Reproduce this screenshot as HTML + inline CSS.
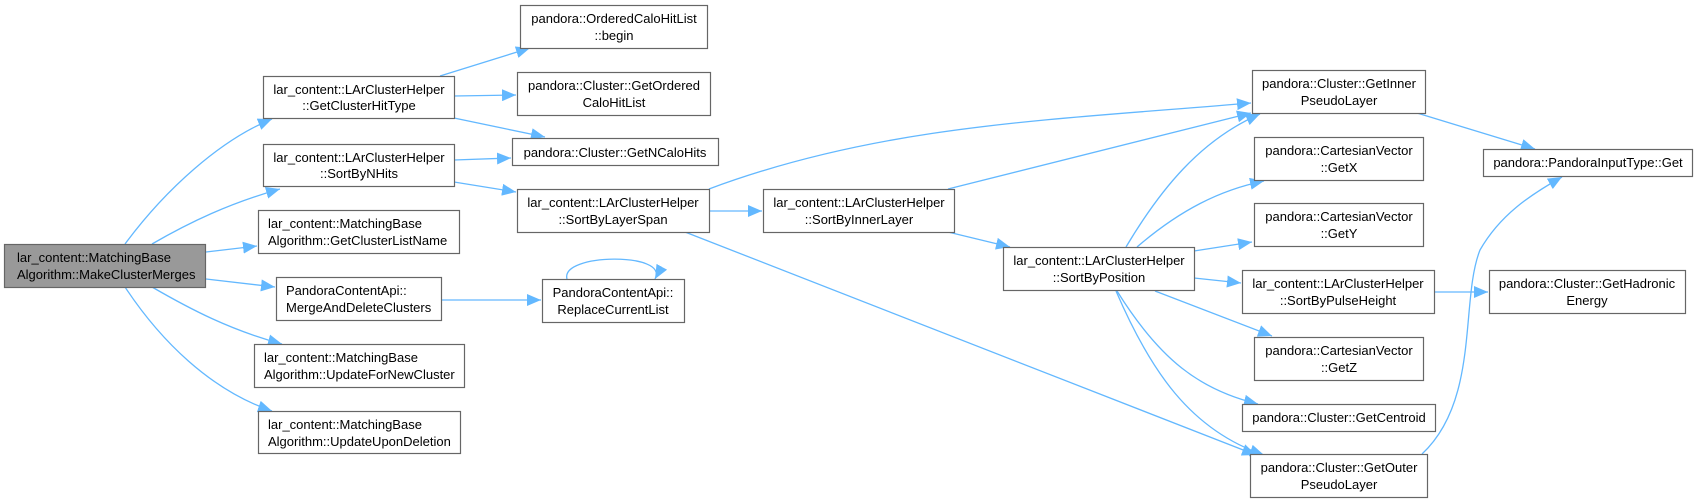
<!DOCTYPE html>
<html><head><meta charset="utf-8"><style>
body{margin:0;background:#fff;width:1697px;height:503px;overflow:hidden}
svg{display:block}
text{font-family:"Liberation Sans",Arial,sans-serif;font-size:13px;fill:#000}
.b{fill:#fff;stroke:#666;stroke-width:1.2}
.e{fill:none;stroke:#63b8ff;stroke-width:1.3}
</style></head><body>
<svg width="1697" height="503" viewBox="0 0 1697 503">
<defs><marker id="a" viewBox="0 0 14 12" refX="14" refY="6" markerWidth="14" markerHeight="12" markerUnits="userSpaceOnUse" orient="auto"><path d="M0,0 L14,6 L0,12 z" fill="#63b8ff"/></marker></defs>
<g class="e" marker-end="url(#a)">
<path d="M125,244 C165,190 220,140 272,119"/>
<path d="M152,244 C190,222 230,203 280,189"/>
<path d="M206,252 L257,246"/>
<path d="M206,279 L275,287"/>
<path d="M152,287 C190,309 230,330 282,344"/>
<path d="M125,287 C160,340 210,390 272,411"/>
<path d="M440,76 L530,48"/>
<path d="M454,96 L516,95"/>
<path d="M454,118 L545,137"/>
<path d="M454,160 L511,158"/>
<path d="M454,182 L516,192"/>
<path d="M441,300 L541,300"/>
<path d="M567,279 C560,253 670,252 655,279"/>
<path d="M709,189 C880,125 1050,120 1251,103"/>
<path d="M709,211 L762,211"/>
<path d="M685,232 L1256,455"/>
<path d="M948,189 L1251,113"/>
<path d="M948,232 L1010,247"/>
<path d="M1126,247 C1160,190 1200,140 1260,114"/>
<path d="M1137,247 C1180,210 1220,190 1264,181"/>
<path d="M1194,251 L1252,242"/>
<path d="M1194,278 L1241,283"/>
<path d="M1155,291 L1272,336"/>
<path d="M1117,291 C1160,360 1200,390 1258,404"/>
<path d="M1116,291 C1150,370 1190,430 1264,455"/>
<path d="M1417,113 L1535,149"/>
<path d="M1434,292 L1488,292"/>
<path d="M1422,454 C1480,400 1460,300 1480,250 C1500,215 1530,195 1562,177"/>
</g>
<rect x="4.5" y="244.5" width="201" height="43" fill="#999" stroke="#666" stroke-width="1.2"/>
<text x="17" y="262">lar_content::MatchingBase</text><text x="17" y="279">Algorithm::MakeClusterMerges</text>

<rect class="b" x="263.5" y="76.5" width="191" height="42"/><text text-anchor="middle" x="359" y="94">lar_content::LArClusterHelper</text><text text-anchor="middle" x="359" y="110">::GetClusterHitType</text>
<rect class="b" x="263.5" y="144.5" width="191" height="42"/><text text-anchor="middle" x="359" y="162">lar_content::LArClusterHelper</text><text text-anchor="middle" x="359" y="178">::SortByNHits</text>
<rect class="b" x="258.5" y="210.5" width="201" height="43"/><text x="268" y="228">lar_content::MatchingBase</text><text x="268" y="245">Algorithm::GetClusterListName</text>
<rect class="b" x="276.5" y="277.5" width="165" height="43"/><text x="286" y="295">PandoraContentApi::</text><text x="286" y="312">MergeAndDeleteClusters</text>
<rect class="b" x="254.5" y="344.5" width="210" height="43"/><text x="264" y="362">lar_content::MatchingBase</text><text x="264" y="379">Algorithm::UpdateForNewCluster</text>
<rect class="b" x="258.5" y="411.5" width="202" height="42"/><text x="268" y="429">lar_content::MatchingBase</text><text x="268" y="446">Algorithm::UpdateUponDeletion</text>

<rect class="b" x="520.5" y="5.5" width="187" height="43"/><text text-anchor="middle" x="614" y="23">pandora::OrderedCaloHitList</text><text text-anchor="middle" x="614" y="40">::begin</text>
<rect class="b" x="517.5" y="72.5" width="193" height="43"/><text text-anchor="middle" x="614" y="90">pandora::Cluster::GetOrdered</text><text text-anchor="middle" x="614" y="107">CaloHitList</text>
<rect class="b" x="512.5" y="138.5" width="206" height="27"/><text text-anchor="middle" x="615" y="157">pandora::Cluster::GetNCaloHits</text>
<rect class="b" x="517.5" y="189.5" width="192" height="43"/><text text-anchor="middle" x="613" y="207">lar_content::LArClusterHelper</text><text text-anchor="middle" x="613" y="224">::SortByLayerSpan</text>
<rect class="b" x="542.5" y="279.5" width="142" height="43"/><text text-anchor="middle" x="613" y="297">PandoraContentApi::</text><text text-anchor="middle" x="613" y="314">ReplaceCurrentList</text>

<rect class="b" x="763.5" y="189.5" width="191" height="43"/><text text-anchor="middle" x="859" y="207">lar_content::LArClusterHelper</text><text text-anchor="middle" x="859" y="224">::SortByInnerLayer</text>
<rect class="b" x="1003.5" y="247.5" width="191" height="43"/><text text-anchor="middle" x="1099" y="265">lar_content::LArClusterHelper</text><text text-anchor="middle" x="1099" y="282">::SortByPosition</text>

<rect class="b" x="1252.5" y="70.5" width="173" height="43"/><text text-anchor="middle" x="1339" y="88">pandora::Cluster::GetInner</text><text text-anchor="middle" x="1339" y="105">PseudoLayer</text>
<rect class="b" x="1254.5" y="137.5" width="169" height="43"/><text text-anchor="middle" x="1339" y="155">pandora::CartesianVector</text><text text-anchor="middle" x="1339" y="172">::GetX</text>
<rect class="b" x="1254.5" y="203.5" width="169" height="43"/><text text-anchor="middle" x="1339" y="221">pandora::CartesianVector</text><text text-anchor="middle" x="1339" y="238">::GetY</text>
<rect class="b" x="1242.5" y="270.5" width="192" height="43"/><text text-anchor="middle" x="1338" y="288">lar_content::LArClusterHelper</text><text text-anchor="middle" x="1338" y="305">::SortByPulseHeight</text>
<rect class="b" x="1254.5" y="337.5" width="169" height="43"/><text text-anchor="middle" x="1339" y="355">pandora::CartesianVector</text><text text-anchor="middle" x="1339" y="372">::GetZ</text>
<rect class="b" x="1242.5" y="404.5" width="193" height="27"/><text text-anchor="middle" x="1339" y="422">pandora::Cluster::GetCentroid</text>
<rect class="b" x="1250.5" y="454.5" width="177" height="43"/><text text-anchor="middle" x="1339" y="472">pandora::Cluster::GetOuter</text><text text-anchor="middle" x="1339" y="489">PseudoLayer</text>

<rect class="b" x="1483.5" y="149.5" width="209" height="27"/><text text-anchor="middle" x="1588" y="167">pandora::PandoraInputType::Get</text>
<rect class="b" x="1489.5" y="270.5" width="196" height="43"/><text text-anchor="middle" x="1587" y="288">pandora::Cluster::GetHadronic</text><text text-anchor="middle" x="1587" y="305">Energy</text>
</svg>
</body></html>
